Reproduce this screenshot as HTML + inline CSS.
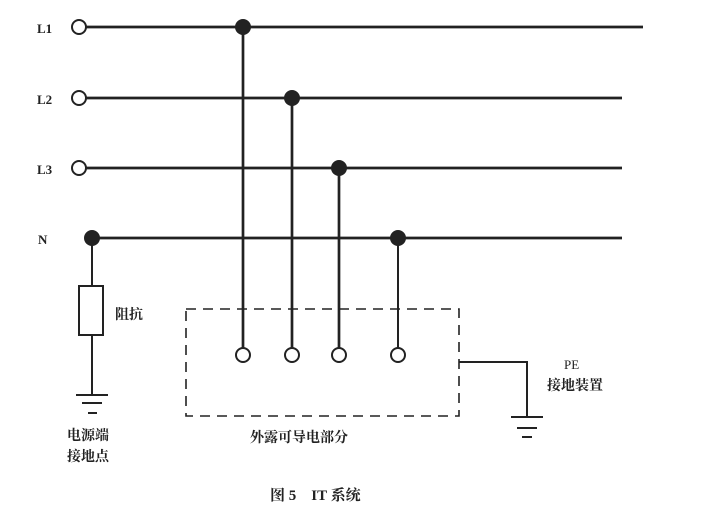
<!DOCTYPE html>
<html><head><meta charset="utf-8"><style>
body{margin:0;background:#fff;width:713px;height:525px;overflow:hidden}
text{font-family:"Liberation Serif","Noto Serif CJK SC",serif;fill:#222;font-weight:bold}
</style></head><body>
<svg width="713" height="525" viewBox="0 0 713 525">
<g stroke="#222" stroke-width="2.7" fill="none">
<line x1="86" y1="27" x2="643" y2="27"/>
<line x1="86" y1="98" x2="622" y2="98"/>
<line x1="86" y1="168" x2="622" y2="168"/>
<line x1="92" y1="238" x2="622" y2="238"/>
<circle cx="79" cy="27" r="7" fill="#fff" stroke-width="2"/>
<circle cx="79" cy="98" r="7" fill="#fff" stroke-width="2"/>
<circle cx="79" cy="168" r="7" fill="#fff" stroke-width="2"/>
<line x1="243" y1="27" x2="243" y2="348"/>
<line x1="292" y1="98" x2="292" y2="348"/>
<line x1="339" y1="168" x2="339" y2="348"/>
<line x1="398" y1="238" x2="398" y2="348" stroke-width="2"/>
<circle cx="243" cy="355" r="7" fill="#fff" stroke-width="2"/>
<circle cx="292" cy="355" r="7" fill="#fff" stroke-width="2"/>
<circle cx="339" cy="355" r="7" fill="#fff" stroke-width="2"/>
<circle cx="398" cy="355" r="7" fill="#fff" stroke-width="2"/>
<rect x="186" y="309" width="273" height="107" stroke-width="1.6" stroke-dasharray="10,7"/>
<polyline points="459,362 527,362 527,417" stroke-width="2"/>
<line x1="511" y1="417" x2="543" y2="417" stroke-width="2"/>
<line x1="517" y1="428" x2="537" y2="428" stroke-width="2"/>
<line x1="522" y1="437" x2="532" y2="437" stroke-width="2"/>
<line x1="92" y1="238" x2="92" y2="286" stroke-width="2"/>
<rect x="79" y="286" width="24" height="49" stroke-width="2"/>
<line x1="92" y1="335" x2="92" y2="395" stroke-width="2"/>
<line x1="76" y1="395" x2="108" y2="395" stroke-width="2"/>
<line x1="82" y1="403" x2="102" y2="403" stroke-width="2"/>
<line x1="88" y1="413" x2="97" y2="413" stroke-width="2"/>
</g>
<g fill="#222">
<circle cx="243" cy="27" r="8"/>
<circle cx="292" cy="98" r="8"/>
<circle cx="339" cy="168" r="8"/>
<circle cx="92" cy="238" r="8"/>
<circle cx="398" cy="238" r="8"/>
</g>
<text x="37" y="33" font-size="13">L1</text>
<text x="37" y="104" font-size="13">L2</text>
<text x="37" y="174" font-size="13">L3</text>
<text x="38" y="244" font-size="13">N</text>
<text x="115" y="319" font-size="14">阻抗</text>
<text x="67" y="440" font-size="14">电源端</text>
<text x="67" y="461" font-size="14">接地点</text>
<text x="250" y="442" font-size="14">外露可导电部分</text>
<text x="564" y="369" font-size="13" style="font-weight:normal">PE</text>
<text x="547" y="390" font-size="14">接地装置</text>
<text x="270" y="500" font-size="15">图 5　IT 系统</text>
</svg>
</body></html>
